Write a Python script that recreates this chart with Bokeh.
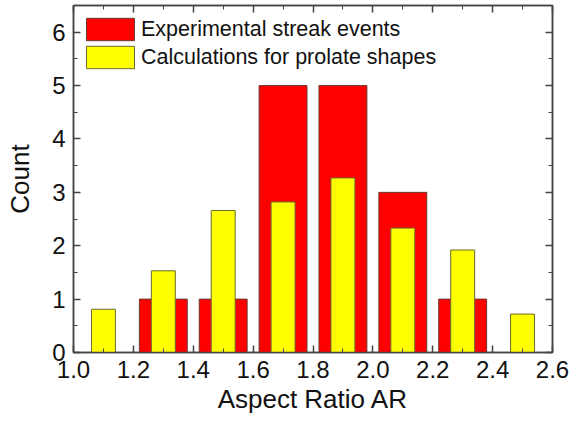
from bokeh.plotting import figure
from bokeh.models import (LinearAxis, SingleIntervalTicker, NumeralTickFormatter,
                          Range1d, Legend, LegendItem, ColumnDataSource)
from bokeh.embed import file_html
from bokeh.resources import INLINE

# Data
exp_ar = [1.3, 1.5, 1.7, 1.9, 2.1, 2.3]
exp_count = [1, 1, 5, 5, 3, 1]
calc_ar = [1.1, 1.3, 1.5, 1.7, 1.9, 2.1, 2.3, 2.5]
calc_count = [0.81, 1.53, 2.66, 2.82, 3.27, 2.33, 1.92, 0.72]
x_label = "Aspect Ratio AR"
y_label = "Count"
legend_labels = ["Experimental streak events", "Calculations for prolate shapes"]

FONT = "Liberation Sans"

p = figure(width=571, height=421, output_backend="svg", toolbar_location=None,
           x_range=Range1d(1.0, 2.6), y_range=Range1d(0, 6.5),
           min_border_left=73, min_border_right=19, min_border_top=5,
           min_border_bottom=69, x_axis_type=None, y_axis_type=None)
p.grid.visible = False
p.outline_line_color = "#444444"
p.outline_line_width = 1.5

src_e = ColumnDataSource(dict(x=exp_ar, top=exp_count))
src_c = ColumnDataSource(dict(x=calc_ar, top=calc_count))
r_e = p.vbar(x="x", top="top", width=0.16, bottom=0, source=src_e,
             fill_color="#FF0000", line_color="#6b3a30", line_width=1)
r_c = p.vbar(x="x", top="top", width=0.08, bottom=0, source=src_c,
             fill_color="#FFFF00", line_color="#6b6a30", line_width=1)

def make_axis(kind, show_labels):
    if kind == "x":
        ax = LinearAxis(ticker=SingleIntervalTicker(interval=0.2, num_minor_ticks=2),
                        formatter=NumeralTickFormatter(format="0.0"))
    else:
        ax = LinearAxis(ticker=SingleIntervalTicker(interval=1, num_minor_ticks=2),
                        formatter=NumeralTickFormatter(format="0"))
    ax.axis_line_color = "#444444"
    ax.axis_line_width = 1.5
    ax.major_tick_in = 7
    ax.major_tick_out = 0
    ax.minor_tick_in = 4
    ax.minor_tick_out = 0
    ax.major_tick_line_color = "#444444"
    ax.minor_tick_line_color = "#444444"
    ax.major_tick_line_width = 1.5
    if show_labels:
        ax.major_label_text_font = FONT
        ax.major_label_text_font_size = "24px"
        ax.major_label_text_color = "#111111"
        ax.axis_label_text_font = FONT
        ax.axis_label_text_font_size = "26px"
        ax.axis_label_text_font_style = "normal"
        ax.axis_label_text_color = "#111111"
    else:
        ax.major_label_text_font_size = "1px"
        ax.major_label_text_color = None
        ax.major_label_standoff = 0
        ax.axis_label = None
    return ax

xb = make_axis("x", True)
xb.axis_label = x_label
xb.major_label_standoff = 8
xb.axis_label_standoff = 3
p.add_layout(xb, "below")

yl = make_axis("y", True)
yl.axis_label = y_label
yl.major_label_standoff = 8
yl.axis_label_standoff = 14
p.add_layout(yl, "left")

p.add_layout(make_axis("x", False), "above")
p.add_layout(make_axis("y", False), "right")

legend = Legend(items=[LegendItem(label=legend_labels[0], renderers=[r_e]),
                       LegendItem(label=legend_labels[1], renderers=[r_c])],
                location=(7, 281))
legend.padding = 0
legend.margin = 0
legend.spacing = -1
legend.glyph_width = 60
legend.glyph_height = 28
legend.label_standoff = 1
legend.label_text_font = FONT
legend.label_text_font_size = "21.5px"
legend.label_text_color = "#111111"
legend.border_line_color = None
legend.background_fill_alpha = 0
p.add_layout(legend)

open("out.html", "w").write(file_html(p, INLINE))
